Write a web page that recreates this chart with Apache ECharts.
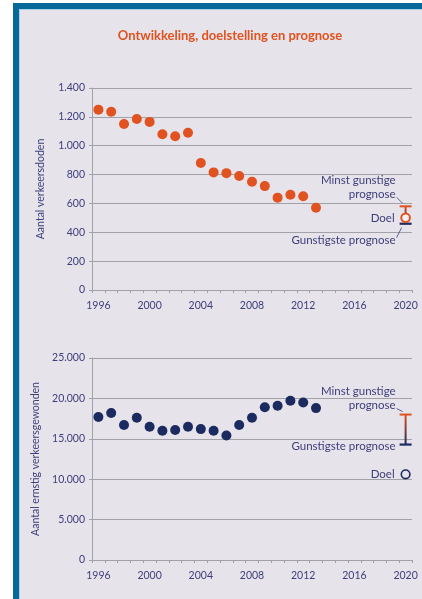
<!DOCTYPE html>
<html>
<head>
<meta charset="utf-8">
<script src="https://cdn.jsdelivr.net/npm/echarts@6/dist/echarts.min.js"></script>
<style>
  html, body { margin: 0; padding: 0; background: #ffffff; }
  #frame {
    position: absolute; left: 13px; top: 3px; width: 409px; height: 596px;
    box-sizing: border-box;
    border-left: 6px solid #07699a; border-top: 6px solid #07699a;
    background: #e6e3ea;
    box-shadow: inset 1px 1px 0 #a9d2e8;
  }
  #chart { position: absolute; left: 0; top: 0; width: 422px; height: 599px; }
</style>
</head>
<body>
<div id="frame"></div>
<div id="chart"></div>
<script>
// Years on the horizontal axis (one band per year)
const years = ['1996','1997','1998','1999','2000','2001','2002','2003','2004','2005','2006','2007','2008','2009','2010','2011','2012','2013','2014','2015','2016','2017','2018','2019','2020'];

// Verkeersdoden per jaar, 1996-2013
const doden = [1250, 1235, 1150, 1185, 1165, 1080, 1065, 1090, 880, 815, 810, 790, 750, 720, 640, 660, 650, 570];
// 2020: gunstigste prognose, minst gunstige prognose, doel
const dodenPrognose = ['2020', 460, 580, 500];

// Ernstig verkeersgewonden per jaar, 1996-2013
const gewonden = [17700, 18200, 16700, 17600, 16500, 16000, 16100, 16500, 16200, 16000, 15400, 16700, 17600, 18900, 19100, 19700, 19500, 18800];
const gewondenPrognose = ['2020', 14300, 18000, 10600];

const ORANGE = '#e0521f';
const NAVY = '#1b2a5f';
const TEXT = '#3d3e7b';
const GRID = '#a3a1a8';
const BG = '#e6e3ea';
const FONT = 'Lato, "Open Sans", sans-serif';

function thousands(v) {
  return String(v).replace(/\B(?=(\d{3})+(?!\d))/g, '.');
}

function xAxis(gridIndex) {
  return {
    type: 'category', gridIndex, data: years, boundaryGap: true,
    axisLine: { lineStyle: { color: GRID, width: 1 } },
    axisTick: { show: true, interval: 0, length: 3, lineStyle: { color: GRID } },
    axisLabel: { interval: 3, color: TEXT, fontSize: 10.5, fontFamily: FONT, margin: 10 },
    splitLine: { show: false }
  };
}

function yAxis(gridIndex, max, interval, name, nameGap) {
  return {
    type: 'value', gridIndex, min: 0, max, interval,
    name, nameLocation: 'middle', nameRotate: 90, nameGap,
    nameTextStyle: { color: TEXT, fontSize: 10.5, fontFamily: FONT },
    axisLine: { show: true, lineStyle: { color: GRID, width: 1 } },
    axisTick: { show: true, length: 3, lineStyle: { color: GRID } },
    axisLabel: { color: TEXT, fontSize: 10.5, fontFamily: FONT, margin: 7, formatter: thousands },
    splitLine: { lineStyle: { color: GRID, width: 1 } }
  };
}

// Draws the 2020 forecast range (gradient bar with caps), the target ring and the notes
function prognoseRenderer(cfg) {
  return function (params, api) {
    const x = api.value(0);
    const lo = api.coord([x, api.value(1)]);
    const hi = api.coord([x, api.value(2)]);
    const tg = api.coord([x, api.value(3)]);
    const cx = lo[0];
    const font = '11.5px ' + FONT;
    const txt = (t, px, py) => ({
      type: 'text', style: { text: t, x: px, y: py, align: 'right', verticalAlign: 'middle', fill: TEXT, font }
    });
    const lead = (x1, y1, x2, y2) => ({
      type: 'line', shape: { x1, y1, x2, y2 }, style: { stroke: TEXT, lineWidth: 0.8 }
    });
    const children = [
      {
        type: 'rect', shape: { x: cx - 1, y: hi[1], width: 2, height: lo[1] - hi[1] },
        style: { fill: new echarts.graphic.LinearGradient(0, 0, 0, 1, [
          { offset: 0, color: ORANGE }, { offset: 1, color: NAVY }
        ]) }
      },
      { type: 'rect', shape: { x: cx - 6, y: hi[1] - 1, width: 12, height: 2 }, style: { fill: ORANGE } },
      { type: 'rect', shape: { x: cx - 6, y: lo[1] - 1, width: 12, height: 2.2 }, style: { fill: NAVY } },
      {
        type: 'circle', shape: { cx, cy: tg[1], r: cfg.ringR },
        style: { fill: cfg.ringFill, stroke: cfg.ringColor, lineWidth: cfg.ringW }
      },
      txt('Minst gunstige', cx - 10, hi[1] + cfg.minstDy),
      txt('prognose', cx - 10, hi[1] + cfg.minstDy + 14),
      lead(cx - 9, hi[1] + cfg.minstDy + 17, cx - 3, hi[1] - 3),
      txt('Doel', cx - 11, tg[1]),
      txt('Gunstigste prognose', cx - 10, lo[1] + cfg.gunstDy)
    ];
    if (cfg.gunstLead) {
      children.push(lead(cx - 9, lo[1] + cfg.gunstDy - 3, cx - 4, lo[1] + 4));
    }
    return { type: 'group', children };
  };
}

const chart = echarts.init(document.getElementById('chart'), null, { renderer: 'canvas' });

chart.setOption({
  animation: false,
  backgroundColor: 'transparent',
  graphic: [{
    type: 'text', x: 230, y: 36,
    style: {
      text: 'Ontwikkeling, doelstelling en prognose', fill: ORANGE,
      font: 'bold 13px ' + FONT, align: 'center', verticalAlign: 'middle'
    }
  }],
  grid: [
    { left: 92, width: 320, top: 88, height: 202 },
    { left: 92, width: 320, top: 358, height: 202 }
  ],
  xAxis: [xAxis(0), xAxis(1)],
  yAxis: [
    yAxis(0, 1400, 200, 'Aantal verkeersdoden', 46),
    yAxis(1, 25000, 5000, 'Aantal ernstig verkeersgewonden', 46)
  ],
  series: [
    {
      type: 'scatter', xAxisIndex: 0, yAxisIndex: 0, data: doden,
      symbolSize: 10, itemStyle: { color: ORANGE, opacity: 1 }
    },
    {
      type: 'scatter', xAxisIndex: 1, yAxisIndex: 1, data: gewonden,
      symbolSize: 10, itemStyle: { color: NAVY, opacity: 1 }
    },
    {
      type: 'custom', xAxisIndex: 0, yAxisIndex: 0, data: [dodenPrognose],
      renderItem: prognoseRenderer({
        ringR: 4.3, ringW: 2, ringColor: ORANGE, ringFill: '#f4f1f3',
        minstDy: -26, gunstDy: 17, gunstLead: true
      })
    },
    {
      type: 'custom', xAxisIndex: 1, yAxisIndex: 1, data: [gewondenPrognose],
      renderItem: prognoseRenderer({
        ringR: 4.3, ringW: 1.6, ringColor: NAVY, ringFill: BG,
        minstDy: -23, gunstDy: 2, gunstLead: false
      })
    }
  ]
});
</script>
</body>
</html>
